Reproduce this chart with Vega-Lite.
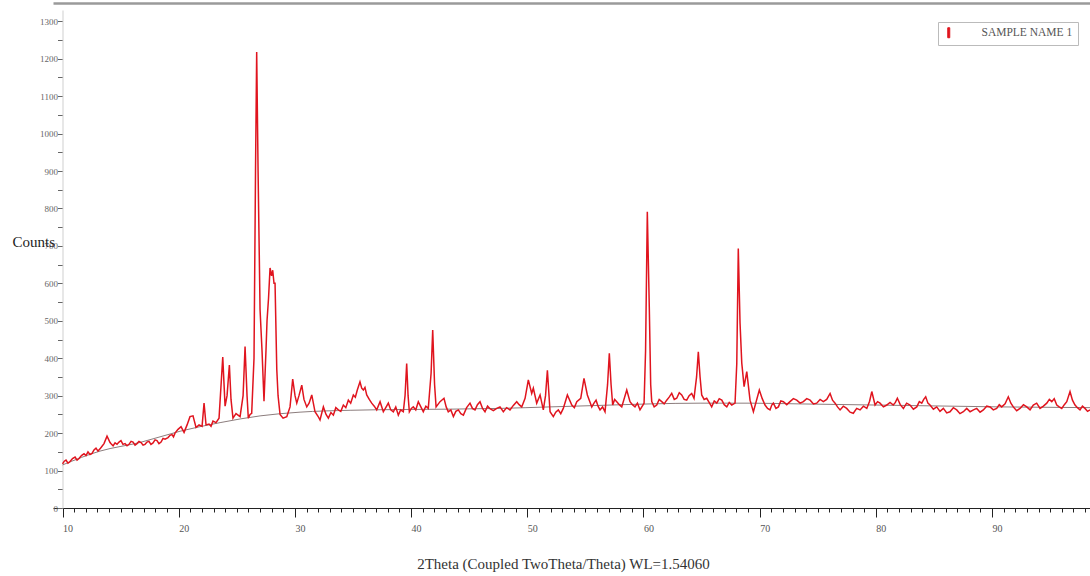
{
  "$schema": "https://vega.github.io/schema/vega-lite/v6.json",
  "width": 1037,
  "height": 498,
  "autosize": {"type": "none"},
  "padding": {"left": 53, "top": 10, "right": 0, "bottom": 68},
  "background": "white",
  "config": {"view": {"stroke": null}, "font": "Liberation Serif"},
  "datasets": {
    "scan": [
      {"t":10.00,"c":118},{"t":10.15,"c":125},{"t":10.30,"c":128},{"t":10.47,"c":120},{"t":10.65,"c":124},{"t":10.86,"c":132},{"t":11.08,"c":136},{"t":11.25,"c":128},{"t":11.42,"c":132},{"t":11.63,"c":140},{"t":11.85,"c":145},{"t":12.02,"c":140},{"t":12.19,"c":150},{"t":12.36,"c":143},{"t":12.54,"c":146},{"t":12.71,"c":155},{"t":12.88,"c":160},{"t":13.05,"c":152},{"t":13.23,"c":158},{"t":13.40,"c":165},{"t":13.57,"c":172},{"t":13.83,"c":192},{"t":14.09,"c":175},{"t":14.22,"c":170},{"t":14.35,"c":166},{"t":14.52,"c":174},{"t":14.69,"c":170},{"t":14.86,"c":176},{"t":15.03,"c":180},{"t":15.20,"c":170},{"t":15.38,"c":172},{"t":15.55,"c":166},{"t":15.72,"c":170},{"t":15.90,"c":178},{"t":16.07,"c":176},{"t":16.24,"c":168},{"t":16.41,"c":172},{"t":16.58,"c":178},{"t":16.76,"c":175},{"t":16.93,"c":168},{"t":17.10,"c":170},{"t":17.27,"c":176},{"t":17.44,"c":178},{"t":17.61,"c":170},{"t":17.79,"c":174},{"t":17.96,"c":182},{"t":18.13,"c":180},{"t":18.30,"c":172},{"t":18.48,"c":176},{"t":18.65,"c":186},{"t":18.82,"c":184},{"t":19.08,"c":188},{"t":19.25,"c":194},{"t":19.42,"c":196},{"t":19.55,"c":190},{"t":19.68,"c":200},{"t":19.94,"c":210},{"t":20.20,"c":217},{"t":20.46,"c":202},{"t":20.72,"c":222},{"t":20.97,"c":244},{"t":21.23,"c":246},{"t":21.49,"c":215},{"t":21.75,"c":222},{"t":22.01,"c":218},{"t":22.18,"c":280},{"t":22.35,"c":222},{"t":22.61,"c":224},{"t":22.78,"c":218},{"t":22.95,"c":232},{"t":23.21,"c":228},{"t":23.47,"c":240},{"t":23.79,"c":403},{"t":23.99,"c":272},{"t":24.16,"c":300},{"t":24.36,"c":382},{"t":24.50,"c":290},{"t":24.67,"c":240},{"t":24.93,"c":252},{"t":25.28,"c":244},{"t":25.54,"c":300},{"t":25.71,"c":431},{"t":25.88,"c":300},{"t":25.99,"c":240},{"t":26.14,"c":250},{"t":26.28,"c":253},{"t":26.48,"c":400},{"t":26.61,"c":900},{"t":26.71,"c":1218},{"t":26.83,"c":900},{"t":27.00,"c":530},{"t":27.17,"c":420},{"t":27.34,"c":285},{"t":27.51,"c":420},{"t":27.60,"c":500},{"t":27.73,"c":560},{"t":27.86,"c":641},{"t":27.99,"c":620},{"t":28.09,"c":635},{"t":28.20,"c":600},{"t":28.29,"c":600},{"t":28.44,"c":370},{"t":28.55,"c":300},{"t":28.72,"c":250},{"t":28.98,"c":240},{"t":29.30,"c":244},{"t":29.58,"c":270},{"t":29.81,"c":344},{"t":30.01,"c":300},{"t":30.16,"c":280},{"t":30.35,"c":300},{"t":30.59,"c":328},{"t":30.78,"c":290},{"t":31.02,"c":270},{"t":31.22,"c":280},{"t":31.45,"c":302},{"t":31.73,"c":257},{"t":31.99,"c":245},{"t":32.16,"c":235},{"t":32.45,"c":270},{"t":32.68,"c":250},{"t":32.88,"c":240},{"t":33.10,"c":255},{"t":33.31,"c":248},{"t":33.52,"c":268},{"t":33.74,"c":262},{"t":33.95,"c":258},{"t":34.17,"c":275},{"t":34.38,"c":268},{"t":34.60,"c":288},{"t":34.80,"c":280},{"t":35.03,"c":302},{"t":35.20,"c":296},{"t":35.37,"c":315},{"t":35.60,"c":337},{"t":35.75,"c":320},{"t":35.89,"c":315},{"t":36.03,"c":322},{"t":36.18,"c":302},{"t":36.40,"c":290},{"t":36.61,"c":280},{"t":36.83,"c":272},{"t":37.04,"c":262},{"t":37.33,"c":284},{"t":37.61,"c":257},{"t":37.82,"c":268},{"t":38.04,"c":280},{"t":38.25,"c":262},{"t":38.47,"c":257},{"t":38.68,"c":270},{"t":38.90,"c":248},{"t":39.10,"c":262},{"t":39.33,"c":257},{"t":39.48,"c":300},{"t":39.62,"c":386},{"t":39.74,"c":300},{"t":39.85,"c":257},{"t":40.02,"c":266},{"t":40.19,"c":270},{"t":40.40,"c":262},{"t":40.62,"c":284},{"t":40.84,"c":270},{"t":41.05,"c":257},{"t":41.27,"c":272},{"t":41.48,"c":266},{"t":41.72,"c":360},{"t":41.86,"c":475},{"t":42.02,"c":330},{"t":42.15,"c":270},{"t":42.49,"c":284},{"t":42.83,"c":293},{"t":43.02,"c":270},{"t":43.20,"c":257},{"t":43.42,"c":262},{"t":43.64,"c":244},{"t":43.85,"c":258},{"t":44.07,"c":262},{"t":44.28,"c":252},{"t":44.50,"c":248},{"t":44.78,"c":268},{"t":45.07,"c":280},{"t":45.28,"c":266},{"t":45.50,"c":262},{"t":45.71,"c":276},{"t":45.93,"c":284},{"t":46.15,"c":266},{"t":46.36,"c":257},{"t":46.58,"c":272},{"t":46.79,"c":265},{"t":47.08,"c":260},{"t":47.37,"c":266},{"t":47.65,"c":270},{"t":47.94,"c":257},{"t":48.22,"c":268},{"t":48.51,"c":262},{"t":48.80,"c":274},{"t":49.09,"c":284},{"t":49.30,"c":276},{"t":49.52,"c":270},{"t":49.81,"c":293},{"t":50.09,"c":342},{"t":50.38,"c":306},{"t":50.52,"c":320},{"t":50.81,"c":280},{"t":51.10,"c":302},{"t":51.38,"c":262},{"t":51.57,"c":300},{"t":51.73,"c":368},{"t":51.96,"c":257},{"t":52.24,"c":244},{"t":52.45,"c":256},{"t":52.67,"c":262},{"t":52.88,"c":252},{"t":53.10,"c":266},{"t":53.45,"c":302},{"t":53.83,"c":275},{"t":54.05,"c":268},{"t":54.26,"c":284},{"t":54.60,"c":293},{"t":54.88,"c":346},{"t":55.17,"c":302},{"t":55.36,"c":286},{"t":55.55,"c":270},{"t":55.74,"c":280},{"t":55.92,"c":288},{"t":56.09,"c":272},{"t":56.26,"c":262},{"t":56.48,"c":270},{"t":56.69,"c":257},{"t":56.91,"c":330},{"t":57.06,"c":413},{"t":57.21,"c":330},{"t":57.35,"c":275},{"t":57.52,"c":290},{"t":57.70,"c":284},{"t":57.92,"c":276},{"t":58.13,"c":270},{"t":58.56,"c":315},{"t":58.84,"c":284},{"t":59.05,"c":276},{"t":59.27,"c":270},{"t":59.48,"c":280},{"t":59.70,"c":262},{"t":60.05,"c":280},{"t":60.18,"c":420},{"t":60.33,"c":791},{"t":60.50,"c":537},{"t":60.62,"c":330},{"t":60.71,"c":284},{"t":60.92,"c":270},{"t":61.14,"c":275},{"t":61.35,"c":290},{"t":61.57,"c":284},{"t":61.78,"c":278},{"t":62.00,"c":288},{"t":62.21,"c":296},{"t":62.43,"c":306},{"t":62.65,"c":290},{"t":62.86,"c":293},{"t":63.08,"c":308},{"t":63.29,"c":302},{"t":63.50,"c":290},{"t":63.72,"c":288},{"t":63.93,"c":300},{"t":64.15,"c":306},{"t":64.35,"c":293},{"t":64.57,"c":350},{"t":64.72,"c":417},{"t":64.87,"c":350},{"t":65.01,"c":302},{"t":65.22,"c":290},{"t":65.44,"c":293},{"t":65.65,"c":282},{"t":65.87,"c":270},{"t":66.09,"c":286},{"t":66.31,"c":280},{"t":66.52,"c":292},{"t":66.74,"c":288},{"t":66.95,"c":276},{"t":67.17,"c":270},{"t":67.38,"c":282},{"t":67.60,"c":275},{"t":67.88,"c":280},{"t":68.03,"c":386},{"t":68.16,"c":693},{"t":68.31,"c":494},{"t":68.46,"c":387},{"t":68.66,"c":324},{"t":68.89,"c":364},{"t":69.17,"c":288},{"t":69.46,"c":257},{"t":69.97,"c":315},{"t":70.22,"c":292},{"t":70.46,"c":275},{"t":70.68,"c":266},{"t":70.89,"c":262},{"t":71.04,"c":275},{"t":71.18,"c":280},{"t":71.40,"c":266},{"t":71.61,"c":270},{"t":71.82,"c":286},{"t":72.04,"c":284},{"t":72.33,"c":276},{"t":72.61,"c":284},{"t":72.90,"c":292},{"t":73.19,"c":288},{"t":73.48,"c":280},{"t":73.76,"c":284},{"t":74.05,"c":292},{"t":74.34,"c":288},{"t":74.63,"c":278},{"t":74.91,"c":280},{"t":75.20,"c":290},{"t":75.48,"c":284},{"t":75.77,"c":290},{"t":76.06,"c":306},{"t":76.27,"c":288},{"t":76.49,"c":280},{"t":76.70,"c":270},{"t":76.92,"c":262},{"t":77.20,"c":272},{"t":77.49,"c":266},{"t":77.78,"c":256},{"t":78.06,"c":253},{"t":78.35,"c":266},{"t":78.64,"c":262},{"t":78.93,"c":272},{"t":79.22,"c":266},{"t":79.46,"c":285},{"t":79.65,"c":311},{"t":79.93,"c":275},{"t":80.15,"c":284},{"t":80.36,"c":280},{"t":80.65,"c":270},{"t":80.94,"c":275},{"t":81.22,"c":282},{"t":81.50,"c":275},{"t":81.68,"c":282},{"t":81.85,"c":293},{"t":82.10,"c":276},{"t":82.37,"c":266},{"t":82.65,"c":280},{"t":82.94,"c":275},{"t":83.23,"c":264},{"t":83.52,"c":270},{"t":83.74,"c":284},{"t":83.95,"c":280},{"t":84.12,"c":290},{"t":84.29,"c":297},{"t":84.48,"c":280},{"t":84.66,"c":275},{"t":84.95,"c":264},{"t":85.24,"c":270},{"t":85.52,"c":258},{"t":85.81,"c":266},{"t":86.10,"c":254},{"t":86.38,"c":257},{"t":86.67,"c":268},{"t":86.96,"c":262},{"t":87.24,"c":252},{"t":87.53,"c":257},{"t":87.82,"c":266},{"t":88.11,"c":257},{"t":88.40,"c":262},{"t":88.68,"c":266},{"t":88.97,"c":256},{"t":89.25,"c":262},{"t":89.54,"c":272},{"t":89.83,"c":270},{"t":90.11,"c":262},{"t":90.40,"c":266},{"t":90.62,"c":276},{"t":90.83,"c":270},{"t":91.12,"c":278},{"t":91.40,"c":297},{"t":91.62,"c":280},{"t":91.83,"c":270},{"t":92.12,"c":260},{"t":92.41,"c":266},{"t":92.70,"c":276},{"t":92.99,"c":270},{"t":93.27,"c":262},{"t":93.55,"c":275},{"t":93.84,"c":280},{"t":94.13,"c":266},{"t":94.42,"c":272},{"t":94.71,"c":280},{"t":94.93,"c":290},{"t":95.14,"c":284},{"t":95.35,"c":292},{"t":95.57,"c":275},{"t":95.78,"c":270},{"t":96.00,"c":266},{"t":96.22,"c":276},{"t":96.43,"c":284},{"t":96.71,"c":311},{"t":96.92,"c":288},{"t":97.14,"c":275},{"t":97.35,"c":268},{"t":97.57,"c":262},{"t":97.78,"c":272},{"t":98.00,"c":266},{"t":98.22,"c":258},{"t":98.43,"c":262}
    ],
    "bg": [
      {"t":10.00,"c":115},{"t":13.23,"c":152},{"t":16.67,"c":175},{"t":20.11,"c":205},{"t":23.56,"c":228},{"t":27.00,"c":246},{"t":30.44,"c":256},{"t":34.75,"c":261},{"t":39.05,"c":263},{"t":43.36,"c":264},{"t":47.66,"c":266},{"t":51.96,"c":270},{"t":56.26,"c":274},{"t":60.57,"c":278},{"t":64.87,"c":280},{"t":69.17,"c":280},{"t":73.47,"c":278},{"t":82.08,"c":274},{"t":90.68,"c":270},{"t":98.43,"c":268}
    ]
  },
  "resolve": {"axis": {"x": "independent"}},
  "layer": [
    {
      "data": {"name": "bg"},
      "mark": {"type": "line", "color": "#8c7d7d", "strokeWidth": 1, "interpolate": "monotone"},
      "encoding": {
        "x": {"field": "t", "type": "quantitative", "scale": {"domain": [9.18, 98.43], "nice": false, "zero": false},
          "axis": {"orient": "top", "offset": 7, "ticks": false, "labels": false, "title": null, "grid": false, "domainColor": "#9a9a9a", "domainWidth": 2.5}},
        "y": {"field": "c", "type": "quantitative", "scale": {"domain": [0, 1330], "nice": false},
          "axis": {
            "values": [0,50,100,150,200,250,300,350,400,450,500,550,600,650,700,750,800,850,900,950,1000,1050,1100,1150,1200,1250,1300],
            "format": "d",
            "labelExpr": "datum.value % 100 === 0 ? datum.label : ''",
            "offset": -9.5, "tickSize": 5, "labelPadding": 0, "domainColor": "#cfcfcf", "tickColor": "#666",
            "labelColor": "#666", "labelFontSize": 9, "labelFlush": false, "labelOverlap": false, "grid": false,
            "title": "Counts", "titleAngle": 0, "titleX": -50.5, "titleY": 231, "titleAlign": "left", "titleBaseline": "middle",
            "titleFontSize": 15, "titleFontWeight": "normal", "titleColor": "#222"
          }}
      }
    },
    {
      "data": {"name": "scan"},
      "mark": {"type": "line", "strokeWidth": 1.5},
      "encoding": {
        "x": {"field": "t", "type": "quantitative",
          "axis": {
            "orient": "bottom",
            "values": [10,11,12,13,14,15,16,17,18,19,20,21,22,23,24,25,26,27,28,29,30,31,32,33,34,35,36,37,38,39,40,41,42,43,44,45,46,47,48,49,50,51,52,53,54,55,56,57,58,59,60,61,62,63,64,65,66,67,68,69,70,71,72,73,74,75,76,77,78,79,80,81,82,83,84,85,86,87,88,89,90,91,92,93,94,95,96,97,98],
            "labelExpr": "datum.value % 10 === 0 ? datum.label : ''",
            "tickSize": {"condition": {"test": "datum.value % 10 === 0", "value": 9}, "value": 4},
            "domainColor": "#222", "tickColor": "#222", "labelColor": "#555", "labelFontSize": 10,
            "labelPadding": 6, "labelAlign": "left", "labelDx": 1, "labelOverlap": false, "labelFlush": false, "grid": false,
            "title": "2Theta (Coupled TwoTheta/Theta) WL=1.54060", "titleFontSize": 15, "titleFontWeight": "normal",
            "titleColor": "#333", "titleX": 510, "titleY": 55, "titleAlign": "center", "titleBaseline": "middle"
          }},
        "y": {"field": "c", "type": "quantitative",
          "axis": {
            "values": [0,50,100,150,200,250,300,350,400,450,500,550,600,650,700,750,800,850,900,950,1000,1050,1100,1150,1200,1250,1300],
            "format": "d",
            "labelExpr": "datum.value % 100 === 0 ? datum.label : ''",
            "offset": -9.5, "tickSize": 5, "labelPadding": 0, "domainColor": "#cfcfcf", "tickColor": "#666",
            "labelColor": "#666", "labelFontSize": 9, "labelFlush": false, "labelOverlap": false, "grid": false,
            "title": "Counts", "titleAngle": 0, "titleX": -50.5, "titleY": 231, "titleAlign": "left", "titleBaseline": "middle",
            "titleFontSize": 15, "titleFontWeight": "normal", "titleColor": "#222"
          }},
        "color": {"datum": "SAMPLE NAME 1", "scale": {"range": ["#e0141e"]},
          "legend": {"orient": "none", "legendX": 885, "legendY": 12, "title": null,
            "symbolType": "M-0.2,-1L0.2,-1L0.2,1L-0.2,1Z", "symbolSize": 100, "symbolFillColor": "#e0141e", "symbolStrokeColor": "#e0141e", "symbolStrokeWidth": 1,
            "labelFont": "Liberation Serif", "labelFontSize": 11.5, "labelColor": "#555", "labelOffset": 27, "padding": 5,
            "strokeColor": "#bbbbbb", "fillColor": "white", "labelLimit": 200}}
      }
    }
  ]
}
